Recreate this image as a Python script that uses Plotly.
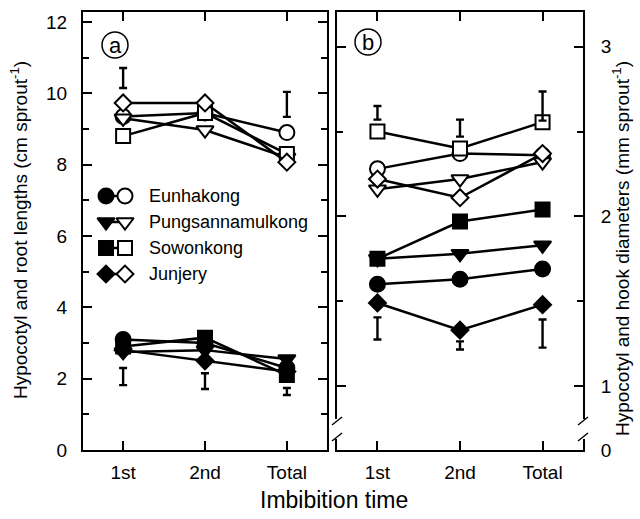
import plotly.graph_objects as go

# ---------------- data ----------------
categories = ["1st", "2nd", "Total"]
cultivars = ["Eunhakong", "Pungsannamulkong", "Sowonkong", "Junjery"]
symbols = ["circle", "triangle-down", "square", "diamond"]

# panel (a): hypocotyl and root lengths (cm sprout-1)
a_open_eunhakong = [9.35, 9.45, 8.9]
a_open_pungsan = [9.3, 8.97, 8.2]
a_open_sowonkong = [8.8, 9.45, 8.3]
a_open_junjery = [9.73, 9.73, 8.07]

a_filled_eunhakong = [3.1, 3.0, 2.3]
a_filled_pungsan = [2.75, 2.8, 2.55]
a_filled_sowonkong = [2.9, 3.15, 2.1]
a_filled_junjery = [2.8, 2.5, 2.2]

a_err_top_x = ["1st", "Total"]
a_err_top_y = [10.43, 9.69]
a_err_top_half = [0.28, 0.35]
a_err_bot_y = [2.06, 1.93, 1.64]
a_err_bot_half = [0.24, 0.22, 0.1]

# panel (b): hypocotyl and hook diameters (mm sprout-1)
b_open_eunhakong = [2.28, 2.37, 2.36]
b_open_pungsan = [2.16, 2.22, 2.32]
b_open_sowonkong = [2.50, 2.40, 2.555]
b_open_junjery = [2.22, 2.11, 2.37]

b_filled_eunhakong = [1.60, 1.63, 1.69]
b_filled_pungsan = [1.75, 1.78, 1.83]
b_filled_sowonkong = [1.75, 1.97, 2.04]
b_filled_junjery = [1.49, 1.33, 1.48]

b_err_top_y = [2.61, 2.52, 2.65]
b_err_top_half = [0.04, 0.05, 0.086]
b_err_bot_y = [1.34, 1.24, 1.31]
b_err_bot_half = [0.065, 0.024, 0.083]

a_open = [a_open_eunhakong, a_open_pungsan, a_open_sowonkong, a_open_junjery]
a_filled = [a_filled_eunhakong, a_filled_pungsan, a_filled_sowonkong, a_filled_junjery]
b_open = [b_open_eunhakong, b_open_pungsan, b_open_sowonkong, b_open_junjery]
b_filled = [b_filled_eunhakong, b_filled_pungsan, b_filled_sowonkong, b_filled_junjery]

# ---------------- figure ----------------
W, H = 640, 519
FONT = "Arial, Liberation Sans, Helvetica, sans-serif"
msize = {"circle": 15, "triangle-down": 15, "square": 14, "diamond": 13}

fig = go.Figure()


def add_series(vals, sym, filled, xa, ya):
    fig.add_trace(go.Scatter(
        x=categories, y=vals, xaxis=xa, yaxis=ya, mode="lines+markers",
        line=dict(color="black", width=2.5),
        marker=dict(symbol=sym, size=msize[sym],
                    color="black" if filled else "white",
                    line=dict(color="black", width=2)),
        showlegend=False, cliponaxis=False))


for i, sym in enumerate(symbols):
    add_series(a_filled[i], sym, True, "x", "y")
    add_series(b_filled[i], sym, True, "x2", "y2")
for i, sym in enumerate(symbols):
    add_series(a_open[i], sym, False, "x", "y")
    add_series(b_open[i], sym, False, "x2", "y2")


def add_err(xs, ys, halves, xa, ya):
    fig.add_trace(go.Scatter(
        x=xs, y=ys, xaxis=xa, yaxis=ya, mode="markers",
        marker=dict(size=1, color="rgba(0,0,0,0)"),
        error_y=dict(type="data", array=halves, visible=True,
                     color="black", thickness=2.4, width=4),
        showlegend=False, cliponaxis=False))


add_err(a_err_top_x, a_err_top_y, a_err_top_half, "x", "y")
add_err(categories, a_err_bot_y, a_err_bot_half, "x", "y")
add_err(categories, b_err_top_y, b_err_top_half, "x2", "y2")
add_err(categories, b_err_bot_y, b_err_bot_half, "x2", "y2")

# legend glyphs drawn on a pixel overlay axis
leg_rows = [196, 222, 248, 274]
leg_x_filled, leg_x_open, leg_x_text = 106, 125, 147
for i, sym in enumerate(symbols):
    fig.add_trace(go.Scatter(
        x=[leg_x_filled, leg_x_open], y=[leg_rows[i], leg_rows[i]],
        xaxis="x3", yaxis="y3", mode="lines+markers",
        line=dict(color="black", width=2.5),
        marker=dict(symbol=sym, size=msize[sym], color=["black", "white"],
                    line=dict(color="black", width=2)),
        showlegend=False, cliponaxis=False))

# ---------------- axes ----------------
PL, PR = 83, 327
QL, QR = 337, 583
PT, PB = 12, 450
ydom = [(H - PB) / H, (H - PT) / H]
TICKFONT = dict(family=FONT, size=19, color="black")

common_x = dict(type="category", range=[-0.49, 2.49], ticks="inside", ticklen=9,
                tickwidth=2, tickcolor="black", showline=True, linecolor="black",
                linewidth=2, mirror="ticks", showgrid=False, zeroline=False,
                tickfont=TICKFONT, ticklabelstandoff=4, automargin=False)

fig.update_layout(
    xaxis=dict(domain=[PL / W, PR / W], anchor="y", **common_x),
    xaxis2=dict(domain=[QL / W, QR / W], anchor="y2", **common_x),
    yaxis=dict(domain=ydom, anchor="x", range=[0, 12.28], tickvals=[0, 2, 4, 6, 8, 10, 12],
               ticks="inside", ticklen=9, tickwidth=2, tickcolor="black",
               minor=dict(tickvals=[1, 3, 5, 7, 9, 11], ticks="inside", ticklen=6,
                          tickwidth=2, tickcolor="black", showgrid=False),
               showline=True, linecolor="black", linewidth=2, mirror="ticks",
               showgrid=False, zeroline=False, ticklabelstandoff=10,
               tickfont=TICKFONT, automargin=False),
    yaxis2=dict(domain=ydom, anchor="x2", side="right", range=[0.624, 3.204],
                tickvals=[0.624, 1, 2, 3], ticktext=["0", "1", "2", "3"],
                ticks="inside", ticklen=9, tickwidth=2, tickcolor="black",
                minor=dict(tickvals=[1.5, 2.5], ticks="inside", ticklen=6,
                           tickwidth=2, tickcolor="black", showgrid=False),
                showline=True, linecolor="black", linewidth=2, mirror="ticks",
                showgrid=False, zeroline=False, ticklabelstandoff=12,
                tickfont=TICKFONT, automargin=False),
    xaxis3=dict(domain=[0, 1], range=[0, W], visible=False, anchor="y3", fixedrange=True),
    yaxis3=dict(domain=[0, 1], range=[H, 0], visible=False, anchor="x3", fixedrange=True),
    width=W, height=H, margin=dict(l=0, r=0, t=0, b=0),
    paper_bgcolor="white", plot_bgcolor="rgba(0,0,0,0)",
    showlegend=False,
    font=dict(family=FONT, color="black"),
)

ann = []
for i, name in enumerate(cultivars):
    ann.append(dict(x=leg_x_text, y=leg_rows[i], xref="x3", yref="y3", text=name,
                    showarrow=False, xanchor="left", yanchor="middle",
                    font=dict(family=FONT, size=18, color="black")))
ann.append(dict(x=334, y=500, xref="x3", yref="y3", text="Imbibition time", showarrow=False,
                font=dict(family=FONT, size=23, color="black")))
ann.append(dict(x=19, y=230, xref="x3", yref="y3", textangle=-90, showarrow=False,
                text="Hypocotyl and root lengths (cm sprout<sup>-1</sup>)",
                font=dict(family=FONT, size=19, color="black")))
ann.append(dict(x=621, y=249, xref="x3", yref="y3", textangle=-90, showarrow=False,
                text="Hypocotyl and hook diameters (mm sprout<sup>-1</sup>)",
                font=dict(family=FONT, size=19, color="black")))
for lab, cx, cy in [("a", 115, 45), ("b", 368, 42)]:
    ann.append(dict(x=cx, y=cy, xref="x3", yref="y3", text=lab, showarrow=False,
                    font=dict(family=FONT, size=22, color="black")))
fig.update_layout(annotations=ann)

shapes = []
for cx, cy in [(115, 45), (368, 42)]:
    shapes.append(dict(type="circle", xref="x3", yref="y3", x0=cx - 13, x1=cx + 13,
                       y0=cy - 13, y1=cy + 13, line=dict(color="black", width=1.5)))
# axis breaks
for bx in [QL, QR]:
    shapes.append(dict(type="rect", xref="x3", yref="y3", x0=bx - 3, x1=bx + 3,
                       y0=419, y1=439, fillcolor="white", line=dict(width=0), layer="above"))
    for by in [421, 437]:
        shapes.append(dict(type="line", xref="x3", yref="y3", x0=bx - 5, x1=bx + 5,
                           y0=by + 4, y1=by - 4, line=dict(color="black", width=1.5),
                           layer="above"))
fig.update_layout(shapes=shapes)

fig.write_html(
    "out.html",
    config={"displayModeBar": False},
    post_script="document.body.style.margin='0';document.body.style.overflow='hidden';",
)
